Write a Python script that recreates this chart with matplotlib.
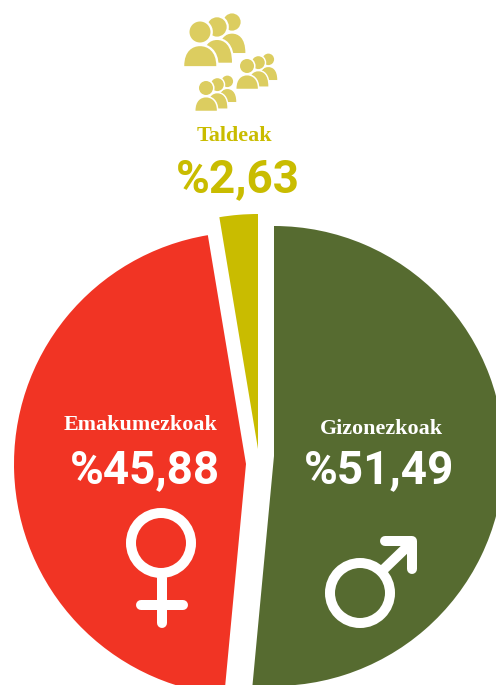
import matplotlib
matplotlib.use("Agg")
import matplotlib.pyplot as plt
from matplotlib.patches import Circle, PathPatch
from matplotlib.path import Path
from matplotlib.transforms import Affine2D

# values, clockwise from the top
labels = ["Gizonezkoak", "Emakumezkoak", "Taldeak"]
values = [51.49, 45.88, 2.63]
value_labels = ["%51,49", "%45,88", "%2,63"]
colors = ["#566B30", "#F13424", "#C9BC00"]
icon_color = "#DCCD60"

W, H = 496, 685
LABEL_FONT = "Liberation Serif"
VALUE_FONT = "Roboto"


def Y(y):
    # picture pixels run downwards
    return H - y


def px(n):
    return n * 0.72


def person(ax, x, y, r, depth=3.25, zorder=3):
    # head on (x, y), body underneath
    verts = [(-1.5, -depth), (-1.5, -1.8), (-0.7, -1.35), (0, -1.35),
             (0.7, -1.35), (1.55, -1.8), (1.55, -depth), (-1.5, -depth)]
    codes = [Path.MOVETO, Path.CURVE4, Path.CURVE4, Path.CURVE4,
             Path.CURVE4, Path.CURVE4, Path.CURVE4, Path.CLOSEPOLY]
    tr = Affine2D().scale(r).translate(x, Y(y))
    body = Path(verts, codes).transformed(tr)
    # white halo first so the figures stay apart
    halo = r * 0.45
    ax.add_patch(PathPatch(body, fc="white", ec="white", lw=px(halo), zorder=zorder))
    ax.add_patch(Circle((x, Y(y)), r, fc="white", ec="white", lw=px(halo), zorder=zorder))
    ax.add_patch(PathPatch(body, fc=icon_color, ec="none", zorder=zorder))
    ax.add_patch(Circle((x, Y(y)), r, fc=icon_color, ec="none", zorder=zorder))


def group(ax, x, y, r):
    person(ax, x + 3.05 * r, y - 0.95 * r, 0.82 * r, depth=3.6, zorder=3)
    person(ax, x + 1.62 * r, y - 0.48 * r, 0.92 * r, depth=3.7, zorder=4)
    person(ax, x, y, r, zorder=5)


fig = plt.figure(figsize=(W / 100, H / 100), dpi=100)
ax = fig.add_axes([0, 0, 1, 1])

wedges, _ = ax.pie(values, colors=colors, startangle=90, counterclock=False,
                   center=(258, Y(457)), radius=230, frame=True)
# slices sit apart, each on its own point
wedges[0].set_center((274, Y(456)))
wedges[1].set_center((246, Y(464)))
wedges[1].set_radius(232)
wedges[2].set_center((258, Y(449)))
wedges[2].set_radius(235)
ax.set_xlim(0, W)
ax.set_ylim(0, H)
ax.set_aspect("auto")
ax.axis("off")

# icons above the small slice
group(ax, 200, 32, 10.5)
group(ax, 247, 66, 7)
group(ax, 206, 88, 7)

# texts
ax.text(381, Y(429), labels[0], color="white", family=LABEL_FONT, weight="bold",
        size=15.8, ha="center", va="center")
ax.text(379, Y(470), value_labels[0], color="white", family=VALUE_FONT, weight="bold",
        size=33, ha="center", va="center")
ax.text(140.5, Y(425), labels[1], color="white", family=LABEL_FONT, weight="bold",
        size=15.8, ha="center", va="center")
ax.text(145, Y(470), value_labels[1], color="white", family=VALUE_FONT, weight="bold",
        size=33, ha="center", va="center")
ax.text(234, Y(136), labels[2], color=colors[2], family=LABEL_FONT, weight="bold",
        size=15.8, ha="center", va="center")
ax.text(238, Y(179), value_labels[2], color=colors[2], family=VALUE_FONT, weight="bold",
        size=33, ha="center", va="center")

# female sign
sign = dict(color="white", lw=px(10), solid_capstyle="round", zorder=5)
ax.add_patch(Circle((161, Y(543)), 30, fc="none", ec="white", lw=px(10), zorder=5))
ax.plot([162, 162], [Y(578), Y(623)], **sign)
ax.plot([141, 183], [Y(605), Y(605)], **sign)

# male sign
ax.add_patch(Circle((360, Y(593)), 30, fc="none", ec="white", lw=px(10), zorder=5))
ax.plot([382, 410], [Y(571), Y(544)], **sign)
ax.plot([385, 412, 412], [Y(541), Y(541), Y(569)], solid_joinstyle="round", **sign)

fig.savefig("out.png", dpi=100)
